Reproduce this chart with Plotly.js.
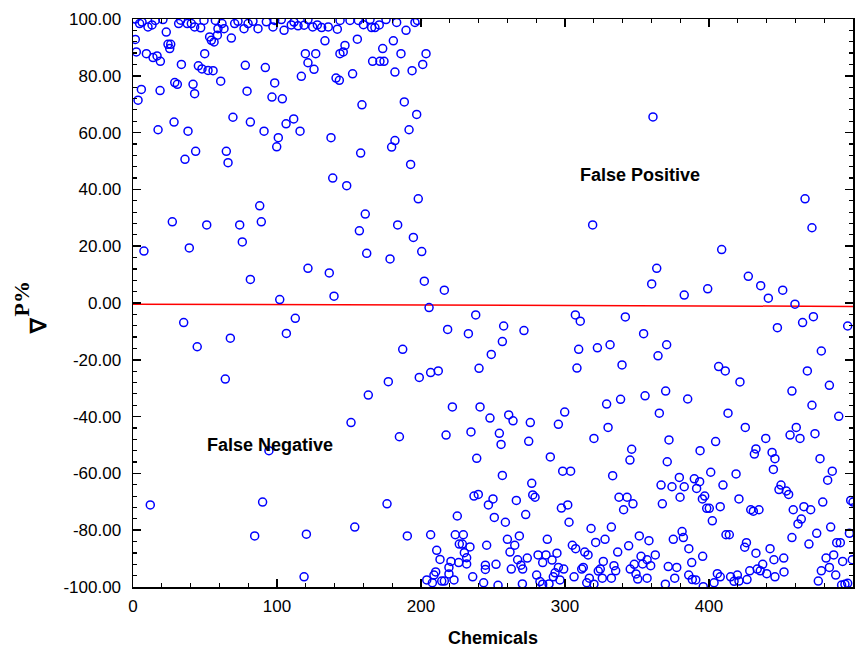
<!DOCTYPE html>
<html>
<head>
<meta charset="utf-8">
<script src="https://cdn.plot.ly/plotly-3.0.1.min.js"></script>
<style>html,body{margin:0;padding:0;background:#fff;}#chart{width:864px;height:647px;}</style>
</head>
<body>
<div id="chart"></div>
<script>
// Chemical index (x) and ∇P% (y)
const chemX = [
1.6,2.3,9.3,13.9,16.7,19,23.1,24.3,26.2,25.5,33.6,49.8,45.4,47.9,52.1,55.6,53.2,54.4,56.3,58.6,59,63.2,68.3,60.9,29,30.8,41.7,42.8,5.8,3.5,18.8,78,91.9,98.4,79.2,96.5,103.7,116.9,119.7,121.5,28.5,17.4,38.2,69.4,81.5,91,106.3,111.6,116,100.9,99.8,43.5,36.1,64.8,66,
1.6,4.6,6.3,10.4,13.2,15.5,20.8,31.7,33.1,37.7,40.5,42.8,47,49.3,57.2,61.8,70.6,72.9,77.1,79.9,83.3,86.8,92.6,97.2,98.4,103,104.9,109.9,111.8,114.6,118.8,121.5,
124.8,128,131,135.6,141.9,143.8,150.7,156.5,160,164.6,165.7,168,171,175.7,183.1,189.6,195.8,197.5,
133.3,147.2,146,143.7,155.8,126.9,125.7,141,143.3,152.5,173.4,180.8,186.1,203.5,166.4,171.5,174.3,201.2,193.8,181.9,159,188.4,197,191.7,137.5,181.9,179.6,158.1,192.8,138.7,148.4,198.1,
7.6,27.3,39.1,51.2,74.1,88,89.1,75.9,81.5,101.9,121.5,35.2,44.6,67.6,64.1,112.7,106.5,
161.3,157.2,183.8,194.7,162.3,178.5,200.5,136.3,139.6,202.3,216.2,205.6,238,218.5,232.9,187.3,206.7,212,198.8,177.3,240.3,163.4,
12,94.4,90,84.5,120.4,118.8,
221.8,241,151.4,185,217.4,234.7,238.7,236.8,239.8,176.4,225.2,154,190.5,206.7,223.8,229.4,226.6,228.7,234,210.9,230.1,213.2,231.7,220.8,226.2,231.7,219.4,210.2,209,219.4,204,207.9,214.4,216.2,222.9,235.9,
319.2,363.7,360.2,257.4,256.5,271.5,248.8,307.2,310.6,341.9,309.5,322.5,331.3,354.6,370.6,364.6,308.3,339.6,369.9,355.6,
247.9,260.9,263.9,275.9,254.4,255.6,274.8,299.8,295.4,328.9,338.6,365.5,329.9,320.1,372.2,346.3,345.1,371,289.8,256.5,276.9,298.4,303.9,333.1,366.7,250,246.8,266.2,277.6,279.2,250.9,258.6,272.7,297.5,301.9,302.8,337.5,343.1,347.2,340.7,367.6,318.1,332.2,
245.6,260,268.3,265.1,261.8,287.7,267.1,273.8,269.4,270.6,262.7,252.1,244.7,244.7,243.5,253.5,270.4,280.3,282.6,284.5,288.9,281.3,286.8,284.5,291,294.4,295.4,293.1,291.9,296.5,299.1,306.3,305.1,307.4,313.7,316,321.3,327.8,311.6,312.7,316.9,315.1,320.1,326.6,323.1,324.5,325.9,332.2,334,335.2,336.6,344.2,351.6,358.3,362.7,352.8,357,348.1,353.9,359.5,345.3,349.3,350.5,357,369.7,371.7,
361.1,466.7,
471.5,408.8,427.3,435.9,399.1,382.8,441.2,451.2,459.7,472.5,465,447.5,496.3,478,406.7,411.3,421.5,468.3,483.6,457.6,
385.2,413.2,471.5,490.1,425.2,460.6,456.3,463.2,473.6,439.4,404.6,393.8,432.6,431.5,443.8,445.8,477.1,444.7,485.6,482.4,401.2,418.8,379.4,389.8,393.5,374.3,382.8,391.4,409.7,450,448.6,453.7,455.3,379.9,397,395.4,420.8,398.4,400.2,407.8,429,430.8,434.7,458.5,465.9,470.6,479,498.4,500,
402.3,464.1,461.8,484.5,381.3,382.2,375.2,411.8,414.1,457.6,474.8,497.5,469.4,488.7,491.2,386,424.8,426,442.4,432.6,395.6,388,445.1,451.9,481.3,486.6,492.8,499.5,
377.6,385.9,388.4,390.8,376.2,396,403.5,405.8,407.8,415,417.4,419.7,420.8,426.4,428.3,433.5,437.3,440.1,435.6,445.8,452.1,475.9,478,483.6,488,492.1,494.4,496.3
];
const deltaP = [
92.8,88.4,87.8,86.4,87,85.1,95.4,91.1,91.1,89.6,84,87.8,83.5,82.4,81.9,81.8,93.7,92.5,91.9,94.3,96.6,96.6,93.3,78.1,77.6,77,77,73.7,75.2,71.4,74.8,83.7,82.9,77.5,74.6,72.5,71.9,79.8,87.8,84.6,63.7,61,60.5,65.4,63.7,60.5,63.1,64.8,60.5,58.2,55,53.4,50.6,53.4,49.4,
100,98.4,98.9,97.2,97.9,99.5,99.8,98.4,99.6,98.4,98.4,97.2,96.9,99.5,99.5,98.4,98.4,99.2,96.6,98.4,99.2,96.6,99,97.2,99.5,99.8,96,97.9,98.9,97.6,97.8,99.8,
97.2,97.9,97,97.2,96.4,99.5,99.5,99.5,98,99.8,97,97,97.9,99.8,98.8,96,98.8,99.5,
92.3,90.7,88.4,87.8,92.9,87.8,82.3,79.2,78.4,80.7,89.6,92.3,87.8,87.8,85.1,85.1,85.1,84,81.8,81.3,69.8,70.8,66.4,61,58.2,57.2,54.9,52.8,48.8,44,41.3,36.7,
18.3,28.6,19.4,27.5,27.5,34.2,28.6,21.5,8.3,1.2,12.2,-6.9,-15.4,-12.4,-26.8,-5.4,-10.7,
31.3,25.4,27.5,23.1,17.5,15.5,18.1,10.6,2.4,7.7,4.5,-1.6,-4.2,-9.3,-10.8,-16.3,-24.5,-23.9,-26.2,-27.7,-23,-32.4,
-71.1,-52,-70.1,-82,-81.4,-96.4,
-36.6,-36.6,-42.1,-47.1,-46.5,-45.4,-54.7,-68,-67.4,-70.7,-75,-78.9,-82,-81.6,-81.6,-81.6,-84.9,-84.9,-85.9,-87.1,-87.9,-90.3,-89.7,-91,-91.4,-91.9,-93.1,-94.7,-95.8,-95.4,-97.5,-98.5,-97.9,-97.9,-97.5,-96.4,
27.5,12.2,6.7,-8.1,-13.6,-9.7,-18.1,-4.2,-6.4,-4.9,-16.3,-15.8,-14.7,-10.8,-14.7,-18.6,-22.9,-21.8,-31,-32.7,
-40.5,-39.4,-41.5,-42.1,-45.9,-49.8,-48.7,-38.4,-42.7,-35.6,-33.9,-38.8,-43.8,-47.7,-48.2,-51.5,-55.3,-55.9,-54.2,-60.7,-63.5,-59.2,-59.2,-60.8,-64.1,-69,-71.1,-69.5,-67.6,-68.4,-75.5,-77.2,-74.5,-72.2,-71.1,-77.2,-68.4,-68.4,-70.7,-72.8,-70.7,-79.4,-78.9,
-85.3,-83.2,-82,-85.3,-87.7,-83.2,-90.4,-89.8,-92.3,-93.7,-93.7,-92,-92.3,-93.8,-98.5,-99.4,-98.9,-95.8,-98.1,-99,-98.9,-88.7,-88.7,-91.4,-90.5,-88.1,-93.1,-95,-96.4,-97.5,-93.7,-96.4,-85.3,-86.5,-87.7,-88.7,-84.3,-83.2,-93.7,-93.1,-96.9,-98.5,-99,-91,-94.4,-93.7,-96.9,-96.9,-92.5,-94.3,-87.7,-85.5,-82,-83.7,-88.7,-89.2,-90.4,-92,-91.9,-92.5,-93.7,-95.4,-97.2,-96.9,-99,-92.8,
65.5,36.7,
26.5,18.8,9.4,6.1,5,2.8,1.7,4.5,-0.4,-4.8,-6.9,-8.7,-8.1,-16.9,-22.4,-23.9,-27.8,-23.9,-29,-31,
-33.8,-38.8,-36,-39.9,-43.8,-43.8,-46.5,-47.7,-46,-47.7,-48.8,-52,-51.4,-53.2,-52.6,-54.8,-54.8,-58.6,-59.2,-62.4,-59.6,-60.2,-61.4,-61.9,-62.9,-64.7,-64.7,-65.3,-64.1,-64.1,-65.7,-66.2,-67.4,-68.4,-68,-69,-69,-72.3,-72.3,-71.7,-72.8,-73.3,-72.8,-72.8,-71.7,-72.8,-70.1,-69.5,-70.1,
-76.7,-76.1,-77.8,-78.9,-80.5,-82.6,-83.2,-81.6,-81.6,-82.6,-81.1,-81.1,-84.9,-84.4,-84.4,-86.5,-86,-84.4,-86.5,-88.1,-89.2,-91.4,-90.4,-89.8,-89.8,-88.7,-91,-90.4,
-93.1,-95.8,-97.4,-97.5,-96.9,-99.9,-98.5,-95.3,-96.4,-96.4,-98,-95.8,-97.9,-97.4,-94.3,-93.7,-92,-95.3,-94.3,-96.4,-94.7,-97.9,-94.3,-93.1,-95.8,-99.3,-99,-98.7
];
// Trend line
const fitX = [0, 500];
const fitY = [-0.4, -1.2];
// Ticks
const xTickVals = [0, 100, 200, 300, 400, 500];
const xTickText = ["0", "100", "200", "300", "400", "500"];
const yTickVals = [-100, -80, -60, -40, -20, 0, 20, 40, 60, 80, 100];
const yTickText = ["-100.00", "-80.00", "-60.00", "-40.00", "-20.00", "0.00", "20.00", "40.00", "60.00", "80.00", "100.00"];

const font = "Arial, 'Liberation Sans', sans-serif";
const serif = "'Times New Roman', 'Liberation Serif', serif";
const traces = [
  {x: fitX, y: fitY, mode: "lines", line: {color: "#ff0000", width: 1.5}, hoverinfo: "skip", showlegend: false},
  {x: chemX, y: deltaP, mode: "markers", showlegend: false,
   marker: {symbol: "circle-open", size: 8, color: "#0000ff", line: {width: 1.5, color: "#0000ff"}}}
];
const axisCommon = {
  showline: true, linecolor: "#000", linewidth: 1.5, mirror: "allticks",
  ticks: "inside", ticklen: 8, tickwidth: 1.5, tickcolor: "#000",
  showgrid: false, zeroline: false, tickmode: "array",
  tickfont: {family: font, size: 17, color: "#000"}
};
const layout = {
  width: 864, height: 647,
  margin: {l: 133, r: 11, t: 19, b: 60},
  paper_bgcolor: "#fff", plot_bgcolor: "#fff",
  showlegend: false,
  xaxis: Object.assign({}, axisCommon, {
    range: [0, 500], tickvals: xTickVals, ticktext: xTickText, ticklabelstandoff: 3,
    minor: {tickmode: "linear", tick0: 0, dtick: 20, ticks: "inside", ticklen: 4, tickwidth: 1.2, tickcolor: "#000", showgrid: false}
  }),
  yaxis: Object.assign({}, axisCommon, {
    range: [-100, 100], tickvals: yTickVals, ticktext: yTickText, ticklabelstandoff: 7,
    minor: {tickmode: "linear", tick0: 0, dtick: 4, ticks: "inside", ticklen: 4, tickwidth: 1.2, tickcolor: "#000", showgrid: false}
  }),
  annotations: [
    {xref: "x", yref: "y", x: 352, y: 45, text: "<b>False Positive</b>", showarrow: false,
     font: {family: font, size: 18, color: "#000"}},
    {xref: "x", yref: "y", x: 95, y: -50, text: "<b>False Negative</b>", showarrow: false,
     font: {family: font, size: 18, color: "#000"}},
    {xref: "paper", yref: "paper", x: 0.5, y: -0.09, text: "<b>Chemicals</b>", showarrow: false,
     xanchor: "center", yanchor: "middle", font: {family: font, size: 18, color: "#000"}},
    {xref: "paper", yref: "paper", x: -0.132, y: 0.461, text: "<b>∇</b>", showarrow: false,
     textangle: -90, xanchor: "center", yanchor: "middle",
     font: {family: serif, size: 22, color: "#000"}},
    {xref: "paper", yref: "paper", x: -0.155, y: 0.507, text: "<b>P%</b>", showarrow: false,
     textangle: -90, xanchor: "center", yanchor: "middle",
     font: {family: serif, size: 22, color: "#000"}}
  ]
};
Plotly.newPlot("chart", traces, layout, {staticPlot: true, displayModeBar: false});
</script>
</body>
</html>
